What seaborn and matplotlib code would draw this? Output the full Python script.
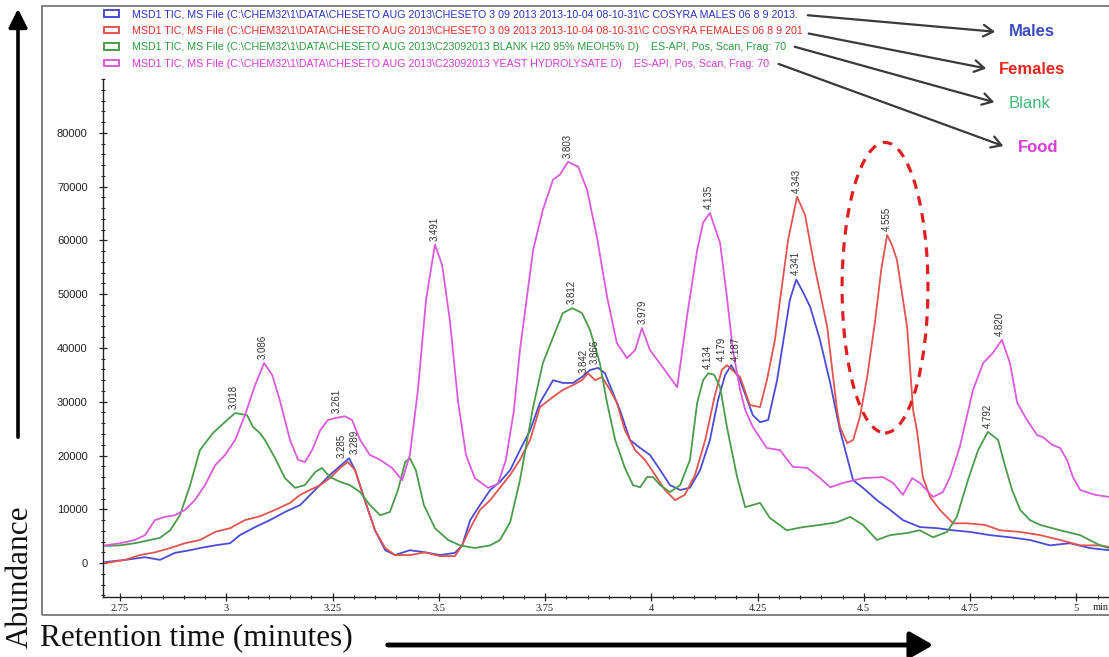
import matplotlib
matplotlib.use("Agg")
import matplotlib.pyplot as plt
import numpy as np
import pandas as pd
import seaborn as sns
from matplotlib.patches import Ellipse, Patch, Rectangle, FancyArrowPatch
from matplotlib.ticker import FixedLocator, MultipleLocator

# ---------------- data (retention time [min], abundance) ----------------
males = [(2.715, 200), (2.762, 600), (2.809, 1100), (2.844, 600), (2.879, 1900), (2.915, 2400),
         (2.938, 2800), (2.974, 3300), (3.009, 3700), (3.032, 5200), (3.068, 6700), (3.103, 8000),
         (3.138, 9500), (3.174, 10800), (3.209, 13600), (3.244, 16400), (3.289, 19500), (3.303, 17300),
         (3.326, 11700), (3.350, 6100), (3.374, 2400), (3.397, 1500), (3.432, 2400), (3.468, 2000),
         (3.503, 1500), (3.538, 1900), (3.555, 3300), (3.574, 8000), (3.597, 10800), (3.621, 13600),
         (3.644, 15100), (3.668, 17300), (3.691, 21000), (3.715, 24700), (3.738, 29800), (3.769, 34000),
         (3.792, 33500), (3.816, 33500), (3.837, 34600), (3.856, 35900), (3.875, 36300), (3.891, 35300),
         (3.910, 31600), (3.926, 28500), (3.950, 22900), (3.974, 21400), (3.997, 20100), (4.021, 17300),
         (4.044, 14500), (4.068, 13600), (4.091, 14000), (4.115, 17300), (4.138, 22900), (4.157, 30300),
         (4.174, 35000), (4.188, 36800), (4.209, 34000), (4.239, 27500), (4.256, 26200), (4.275, 26600),
         (4.296, 34000), (4.315, 43400), (4.326, 48900), (4.341, 52700), (4.357, 50400), (4.374, 47600),
         (4.397, 41500), (4.421, 33500), (4.444, 24700), (4.475, 15400), (4.498, 14000), (4.531, 11700),
         (4.562, 9900), (4.592, 8000), (4.632, 6700), (4.672, 6500), (4.710, 6100), (4.750, 5800),
         (4.797, 5200), (4.844, 4800), (4.891, 4300), (4.938, 3300), (4.985, 3700), (5.032, 2800),
         (5.077, 2400)]

females = [(2.715, 0), (2.762, 600), (2.797, 1500), (2.832, 2000), (2.868, 2800), (2.903, 3700),
           (2.938, 4300), (2.974, 5800), (3.009, 6500), (3.044, 8000), (3.079, 8700), (3.115, 9900),
           (3.150, 11200), (3.174, 12700), (3.197, 13600), (3.221, 14500), (3.244, 15800), (3.268, 17700),
           (3.286, 18800), (3.303, 17300), (3.326, 11700), (3.350, 6100), (3.374, 2800), (3.397, 1500),
           (3.432, 1500), (3.468, 2000), (3.503, 1300), (3.538, 1300), (3.555, 3300), (3.574, 6500),
           (3.597, 9900), (3.621, 11700), (3.644, 14000), (3.668, 16400), (3.691, 19200), (3.715, 22900),
           (3.738, 29000), (3.769, 30900), (3.792, 32200), (3.816, 33100), (3.837, 34000), (3.851, 35300),
           (3.868, 34000), (3.884, 34600), (3.903, 32200), (3.919, 29800), (3.938, 24700), (3.962, 21000),
           (3.985, 19200), (4.009, 16400), (4.032, 13600), (4.056, 11700), (4.079, 12700), (4.103, 16400),
           (4.127, 22900), (4.150, 31300), (4.166, 35900), (4.178, 36800), (4.209, 34600), (4.232, 29400),
           (4.256, 29000), (4.272, 34000), (4.291, 41500), (4.303, 48900), (4.322, 60100), (4.343, 68100),
           (4.362, 64700), (4.381, 56400), (4.414, 43900), (4.437, 28500), (4.444, 25300), (4.461, 22300),
           (4.475, 22900), (4.491, 27200), (4.508, 34600), (4.527, 45200), (4.541, 54500), (4.555, 61000),
           (4.566, 59200), (4.578, 56400), (4.602, 43900), (4.616, 28500), (4.625, 24700), (4.639, 16000),
           (4.656, 12300), (4.679, 9900), (4.710, 7400), (4.743, 7400), (4.785, 7100), (4.821, 6100),
           (4.868, 5800), (4.915, 5200), (4.962, 4300), (5.009, 3300), (5.056, 3300), (5.077, 3000)]

blank = [(2.715, 3200), (2.750, 3300), (2.785, 3700), (2.821, 4300), (2.844, 4700), (2.868, 6100),
         (2.891, 8900), (2.915, 14500), (2.938, 21000), (2.969, 24200), (3.002, 26600), (3.021, 27900),
         (3.049, 27500), (3.063, 25300), (3.079, 24200), (3.091, 22900), (3.115, 19500), (3.138, 15800),
         (3.162, 14000), (3.185, 14500), (3.209, 16900), (3.225, 17700), (3.244, 16000), (3.268, 15100),
         (3.291, 14500), (3.315, 13200), (3.338, 10800), (3.362, 8900), (3.385, 9500), (3.404, 13600),
         (3.421, 18800), (3.432, 19500), (3.446, 17300), (3.465, 10800), (3.491, 6500), (3.522, 4300),
         (3.550, 3300), (3.585, 2800), (3.621, 3300), (3.644, 4300), (3.668, 7600), (3.691, 15400),
         (3.722, 29000), (3.745, 37200), (3.769, 42000), (3.792, 46500), (3.814, 47400), (3.837, 46500),
         (3.856, 43300), (3.879, 37200), (3.896, 29800), (3.915, 22900), (3.938, 17700), (3.957, 14500),
         (3.974, 14100), (3.990, 16000), (4.004, 16000), (4.021, 14500), (4.044, 13200), (4.068, 14500),
         (4.091, 19200), (4.108, 29800), (4.122, 34000), (4.134, 35300), (4.148, 35000), (4.162, 32700),
         (4.178, 25300), (4.202, 16000), (4.221, 10400), (4.256, 11200), (4.279, 8400), (4.319, 6100),
         (4.357, 6700), (4.397, 7100), (4.437, 7600), (4.468, 8600), (4.498, 7100), (4.531, 4300),
         (4.562, 5200), (4.602, 5600), (4.632, 6100), (4.663, 4800), (4.696, 5800), (4.719, 8600),
         (4.745, 15400), (4.769, 21000), (4.792, 24400), (4.816, 22900), (4.832, 18200), (4.849, 13600),
         (4.868, 9900), (4.891, 8000), (4.915, 7100), (4.962, 6100), (5.009, 5200), (5.056, 3300),
         (5.077, 2800)]

food = [(2.715, 3300), (2.750, 3700), (2.785, 4300), (2.809, 5200), (2.832, 8000), (2.856, 8600),
        (2.879, 8900), (2.903, 9900), (2.926, 11700), (2.950, 14500), (2.974, 18200), (2.997, 20100),
        (3.021, 22900), (3.044, 27500), (3.068, 33100), (3.089, 37200), (3.108, 35000), (3.126, 30300),
        (3.150, 22900), (3.169, 19200), (3.185, 18800), (3.202, 21000), (3.221, 24700), (3.239, 26600),
        (3.258, 27000), (3.279, 27300), (3.296, 26600), (3.315, 22900), (3.338, 20100), (3.362, 19200),
        (3.390, 17700), (3.414, 15400), (3.432, 20100), (3.451, 32200), (3.470, 48900), (3.491, 59200),
        (3.508, 55400), (3.526, 45200), (3.545, 30300), (3.564, 20100), (3.585, 15800), (3.616, 14000),
        (3.639, 14700), (3.658, 19200), (3.677, 28500), (3.691, 39600), (3.722, 58200), (3.745, 65700),
        (3.769, 71300), (3.785, 72200), (3.804, 74600), (3.828, 73700), (3.849, 69400), (3.872, 60700),
        (3.896, 49500), (3.919, 40900), (3.943, 38100), (3.962, 39600), (3.978, 43700), (3.997, 39600),
        (4.028, 36300), (4.061, 32700), (4.084, 45800), (4.108, 58200), (4.122, 63300), (4.138, 65100),
        (4.162, 59500), (4.178, 49500), (4.192, 39600), (4.209, 32200), (4.221, 28500), (4.239, 25300),
        (4.272, 21400), (4.303, 21000), (4.333, 17900), (4.367, 17700), (4.397, 15800), (4.421, 14100),
        (4.451, 14900), (4.498, 15800), (4.545, 16000), (4.569, 14900), (4.592, 12700), (4.614, 15800),
        (4.632, 14900), (4.663, 12300), (4.686, 13200), (4.703, 16000), (4.726, 21600), (4.757, 32200),
        (4.781, 37200), (4.804, 39100), (4.825, 41500), (4.844, 37200), (4.861, 29800), (4.884, 26600),
        (4.908, 23800), (4.922, 23400), (4.943, 22000), (4.962, 21400), (4.978, 19200), (4.992, 16000),
        (5.009, 13600), (5.044, 12700), (5.077, 12300)]

series_names = ["Males", "Females", "Blank", "Food"]

legend_labels = [
    r"MSD1 TIC, MS File (C:\CHEM32\1\DATA\CHESETO AUG 2013\CHESETO 3 09 2013 2013-10-04 08-10-31\C COSYRA MALES 06 8 9 2013.",
    r"MSD1 TIC, MS File (C:\CHEM32\1\DATA\CHESETO AUG 2013\CHESETO 3 09 2013 2013-10-04 08-10-31\C COSYRA FEMALES 06 8 9 201",
    r"MSD1 TIC, MS File (C:\CHEM32\1\DATA\CHESETO AUG 2013\C23092013 BLANK H20 95% MEOH5% D)    ES-API, Pos, Scan, Frag: 70",
    r"MSD1 TIC, MS File (C:\CHEM32\1\DATA\CHESETO AUG 2013\C23092013 YEAST HYDROLYSATE D)    ES-API, Pos, Scan, Frag: 70",
]

peak_labels = ["3.018", "3.086", "3.261", "3.289", "3.285", "3.491", "3.803", "3.812", "3.842",
               "3.866", "3.979", "4.135", "4.134", "4.179", "4.187", "4.343", "4.341", "4.555",
               "4.792", "4.820"]
peak_times = [3.018, 3.086, 3.261, 3.289, 3.285, 3.491, 3.803, 3.812, 3.842,
              3.866, 3.979, 4.135, 4.134, 4.179, 4.187, 4.343, 4.341, 4.555,
              4.792, 4.820]
peak_values = [27900, 37200, 27100, 19500, 18800, 59200, 74600, 47400, 34600,
               36300, 43700, 65100, 35300, 36800, 36800, 68100, 52700, 61000,
               24400, 41500]
# small sideways nudges (points) so that crowded labels stay legible
peak_nudges = [0, 0, 0, 4, -4, 0, 0, 0, 0,
               0, 0, 0, 0, -4, 4, 0, 0, 0,
               0, 0]

x_ticks = [2.75, 3.0, 3.25, 3.5, 3.75, 4.0, 4.25, 4.5, 4.75, 5.0]
x_tick_labels = ["2.75", "3", "3.25", "3.5", "3.75", "4", "4.25", "4.5", "4.75", "5"]
y_ticks = [0, 10000, 20000, 30000, 40000, 50000, 60000, 70000, 80000]
y_tick_labels = ["0", "10000", "20000", "30000", "40000", "50000", "60000", "70000", "80000"]

# ---------------- styling ----------------
line_colors = ["#4b4bd8", "#e2544f", "#4a9c4a", "#dc5adc"]
legend_colors = ["#2a35c0", "#e8302a", "#2e9a3e", "#d83ad8"]
name_colors = ["#3a4cc0", "#e8261e", "#45b87a", "#d93cd9"]

sns.set_theme(style="white")
plt.rcParams["font.family"] = ["Liberation Sans", "DejaVu Sans"]

W, H = 1109, 657
fig = plt.figure(figsize=(W / 100, H / 100), dpi=100)


def fx(px):
    return px / W


def fy(py):
    return 1 - py / H


ax_left, ax_right, ax_top, ax_bottom = 103, 1109, 79, 597
ax = fig.add_axes([fx(ax_left), fy(ax_bottom), fx(ax_right) - fx(ax_left), fy(ax_top) - fy(ax_bottom)])
ax.set_facecolor("white")

frames = []
for name, pts in zip(series_names, [males, females, blank, food]):
    arr = np.array(pts, dtype=float)
    frames.append(pd.DataFrame({"time": arr[:, 0], "abundance": arr[:, 1], "series": name}))
df = pd.concat(frames, ignore_index=True)

sns.lineplot(data=df, x="time", y="abundance", hue="series", hue_order=series_names,
             palette=dict(zip(series_names, line_colors)), estimator=None, sort=False,
             linewidth=1.3, legend=False, ax=ax)

ax.set_xlim(2.71, 5.077)
ax.set_ylim(-6300, 90000)
ax.set_xlabel("")
ax.set_ylabel("")

for s in ["top", "right"]:
    ax.spines[s].set_visible(False)
for s in ["left", "bottom"]:
    ax.spines[s].set_color("#222222")
    ax.spines[s].set_linewidth(1.0)

ax.xaxis.set_major_locator(FixedLocator(x_ticks))
ax.set_xticklabels(x_tick_labels, family="Liberation Serif", fontsize=7.5, color="#222222")
ax.xaxis.set_minor_locator(MultipleLocator(0.05))
ax.yaxis.set_major_locator(FixedLocator(y_ticks))
ax.set_yticklabels(y_tick_labels, fontsize=8, color="#222222")
ax.yaxis.set_minor_locator(MultipleLocator(2000))
ax.tick_params(axis="both", which="major", direction="inout", length=6, width=0.9,
               color="#222222", bottom=True, left=True, pad=2)
ax.tick_params(axis="both", which="minor", direction="inout", length=3, width=0.8,
               color="#222222", bottom=True, left=True)
ax.tick_params(axis="y", which="major", pad=8)
ax.grid(False)

# peak retention-time labels
for lab, t, v, dx in zip(peak_labels, peak_times, peak_values, peak_nudges):
    ax.annotate(lab, (t, v), xytext=(dx, 3), textcoords="offset points", rotation=90,
                ha="center", va="bottom", fontsize=7, color="#333333", annotation_clip=False)

# dashed ellipse round the female-specific peak
ell = Ellipse((4.550, 51200), width=0.202, height=54000, fill=False,
              edgecolor="#e02020", linewidth=2.3, linestyle=(0, (3, 2.4)), zorder=5)
ax.add_patch(ell)

# legend (file descriptions)
handles = [Patch(facecolor="white", edgecolor=c, linewidth=1.4) for c in line_colors]
fig.legend(handles, legend_labels, loc="upper left", bbox_to_anchor=(fx(104), fy(9.5)),
           bbox_transform=fig.transFigure, frameon=False, fontsize=7.7, labelcolor=legend_colors,
           handlelength=1.4, handleheight=0.55, handletextpad=1.2, labelspacing=0.6,
           borderpad=0, borderaxespad=0)

# right-hand names and pointer arrows
name_pos = [(1032, 32), (1032, 69), (1030, 104), (1038, 148)]
name_weight = ["bold", "bold", "normal", "bold"]
arrow_start = [(805, 15), (806, 33), (792, 46), (776, 63)]
arrow_end = [(998, 32), (989, 69), (997, 103), (1006, 147)]
for nm, (px, py), c, w in zip(series_names, name_pos, name_colors, name_weight):
    fig.text(fx(px), fy(py), nm, color=c, fontsize=12, fontweight=w, ha="center", va="center")
for (x0, y0), (x1, y1) in zip(arrow_start, arrow_end):
    arr = FancyArrowPatch((fx(x0), fy(y0)), (fx(x1), fy(y1)), transform=fig.transFigure,
                          arrowstyle="->,head_length=0.5,head_width=0.3", mutation_scale=14,
                          color="#3a3a3a", linewidth=1.6)
    fig.add_artist(arr)

# outer frame
frame = Rectangle((fx(42), fy(615)), fx(1200) - fx(42), fy(6) - fy(615), transform=fig.transFigure,
                  fill=False, edgecolor="#777777", linewidth=1.3)
fig.add_artist(frame)

# axis titles with big arrows
fig.text(fx(20), fy(577), "Abundance", rotation=90, family="Liberation Serif", fontsize=22.5,
         ha="center", va="center", color="#111111")
fig.text(fx(40), fy(638), "Retention time (minutes)", family="Liberation Serif", fontsize=22.5,
         ha="left", va="center", color="#111111")
fig.text(fx(1093), fy(607), "min", family="Liberation Serif", fontsize=7.5, ha="left", va="center",
         color="#222222")

v_arrow = FancyArrowPatch((fx(18), fy(440)), (fx(18), fy(6)), transform=fig.transFigure,
                          arrowstyle="-|>,head_length=0.7,head_width=0.35", mutation_scale=16,
                          color="black", linewidth=2.6)
fig.add_artist(v_arrow)
h_arrow = FancyArrowPatch((fx(385), fy(645)), (fx(936), fy(645)), transform=fig.transFigure,
                          arrowstyle="-|>,head_length=0.7,head_width=0.4", mutation_scale=20,
                          color="black", linewidth=3.5)
fig.add_artist(h_arrow)

fig.savefig("out.png", dpi=100, facecolor="white")
